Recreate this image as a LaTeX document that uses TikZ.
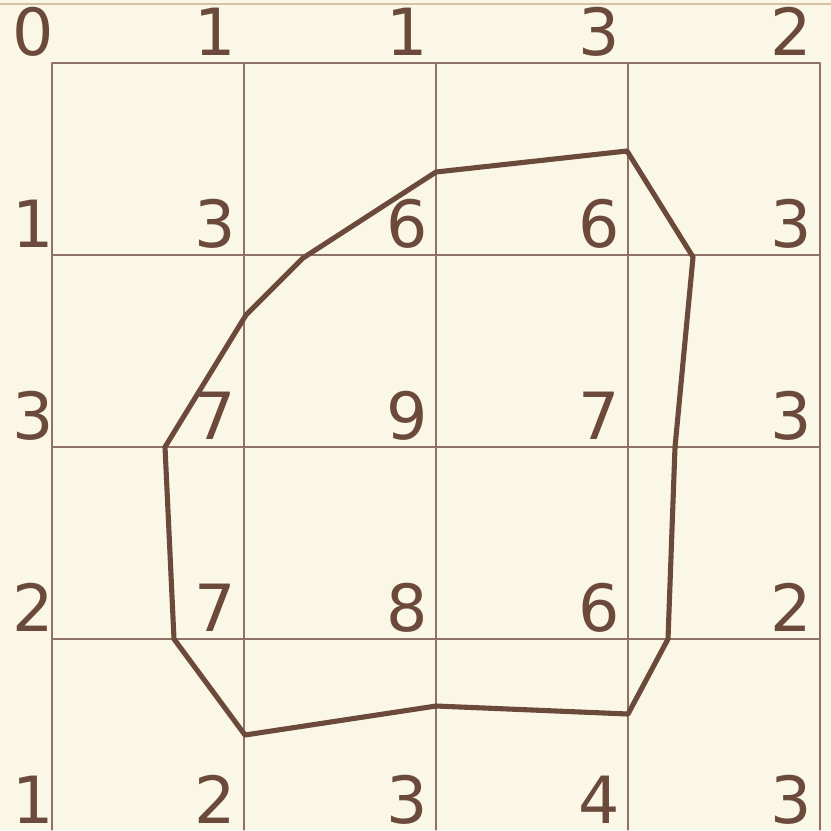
\documentclass[tikz,border=0pt]{standalone}
\usepackage{fontspec}
\setmainfont{DejaVu Sans}
\definecolor{bg}{HTML}{FAF7E6}
\definecolor{br}{HTML}{6B4A3C}
\definecolor{gr}{HTML}{8E7264}
\definecolor{tn}{HTML}{D8BFA8}
\begin{document}
\begin{tikzpicture}[x=0.01cm,y=-0.01cm,font=\fontsize{18.5}{18.5}\selectfont,line cap=round,
	val/.style={text=br,inner sep=0pt,anchor=base east}]
		\fill[bg] (0,0) rectangle (831,830);
		\useasboundingbox (0,0) rectangle (831,830);
		\draw[tn,line width=0.6pt] (0,4)--(831,4);
		% grid
		\foreach \i in {0,...,4}
		\draw[gr,line width=0.35pt] (52+192*\i,63)--(52+192*\i,830);
		\foreach \j in {0,...,3}
		\draw[gr,line width=0.35pt] (52,63+192*\j)--(820,63+192*\j);
		% values at the grid points
		\foreach \row [count=\r from 0] in {{0,1,1,3,2},{1,3,6,6,3},{3,7,9,7,3},{2,7,8,6,2},{1,2,3,4,3}}
		\foreach \v [count=\c from 0] in \row
		\node[val] (n\r\c) at ({45+192*\c+(\c==0)*10},55+192*\r) {\v};
		% contour
		\draw[br,line width=1.45pt,line join=round]
		(436,172)--(627,151)--(693,257)--(675,447)--(668,639)--(628,714)--(436,706)--(245,735)
		--(174,639)--(165,447)--(246,315)--(303,258)--cycle;
	\end{tikzpicture}
\end{document}
